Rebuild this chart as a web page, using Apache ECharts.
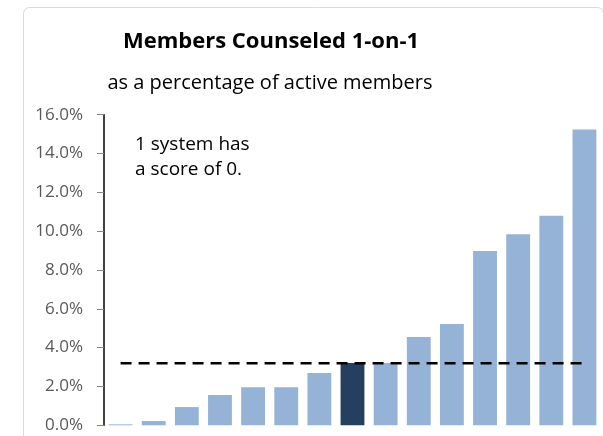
<!DOCTYPE html>
<html>
<head>
<meta charset="utf-8">
<script src="https://cdn.jsdelivr.net/npm/echarts@6/dist/echarts.min.js"></script>
<style>
  html, body { margin: 0; padding: 0; background: #ffffff; }
  #chart { width: 603px; height: 436px; }
</style>
</head>
<body>
<div id="chart"></div>
<script>
// Share of active members counseled one-on-one, per system (percent)
const systems = ['S1','S2','S3','S4','S5','S6','S7','S8','S9','S10','S11','S12','S13','S14','S15'];
const counseledPct = [0.05, 0.22, 0.94, 1.56, 1.96, 1.96, 2.70, 3.21, 3.21, 4.55, 5.22, 8.98, 9.84, 10.79, 15.24];
const highlightIndex = 7;
const averagePct = 3.2;
const yTicks = [0, 2, 4, 6, 8, 10, 12, 14, 16];

const LIGHT = '#95b3d7';
const DARK = '#243f60';
const FONT = '"Open Sans", "Noto Sans", sans-serif';

const chart = echarts.init(document.getElementById('chart'), null, { renderer: 'canvas' });

chart.setOption({
  animation: false,
  backgroundColor: '#ffffff',
  graphic: [
    {
      type: 'rect',
      left: 21, top: 5,
      shape: { width: 580, height: 460, r: 6 },
      style: { fill: 'none', stroke: '#d9d9d9', lineWidth: 1 },
      silent: true, z: -10
    },
    {
      type: 'text',
      left: 135, top: 132,
      style: {
        text: '1 system has\na score of 0.',
        font: '19px ' + FONT,
        lineHeight: 25,
        fill: '#000000'
      }
    }
  ],
  title: [
    {
      text: 'Members Counseled 1-on-1',
      left: 271, top: 31, padding: 0,
      textAlign: 'center',
      textStyle: { fontFamily: FONT, fontSize: 22, fontWeight: 'bold', color: '#000000' }
    },
    {
      text: 'as a percentage of active members',
      left: 270, top: 73, padding: 0,
      textAlign: 'center',
      textStyle: { fontFamily: FONT, fontSize: 20, fontWeight: 'normal', color: '#000000' }
    }
  ],
  grid: { left: 104, right: 2, top: 114.7, bottom: 10.7, containLabel: false },
  xAxis: {
    type: 'category',
    data: systems,
    axisLine: { show: false },
    axisTick: { show: false },
    axisLabel: { show: false },
    splitLine: { show: false }
  },
  yAxis: {
    type: 'value',
    min: yTicks[0],
    max: yTicks[yTicks.length - 1],
    interval: yTicks[1] - yTicks[0],
    axisLine: { show: true, lineStyle: { color: '#000000', width: 1.5 } },
    axisTick: { show: true, length: 7, lineStyle: { color: '#868686', width: 1 } },
    axisLabel: {
      margin: 21,
      fontFamily: FONT,
      fontSize: 17,
      color: '#595959',
      formatter: v => v.toFixed(1) + '%'
    },
    splitLine: { show: false }
  },
  series: [
    {
      type: 'bar',
      barWidth: '72%',
      data: counseledPct.map((v, i) => ({
        value: v,
        itemStyle: { color: i === highlightIndex ? DARK : LIGHT }
      })),
      z: 2
    },
    {
      type: 'line',
      data: systems.map(() => averagePct),
      symbol: 'none',
      lineStyle: { color: '#000000', width: 2.5, type: [11, 7] },
      z: 3
    }
  ]
});
</script>
</body>
</html>
